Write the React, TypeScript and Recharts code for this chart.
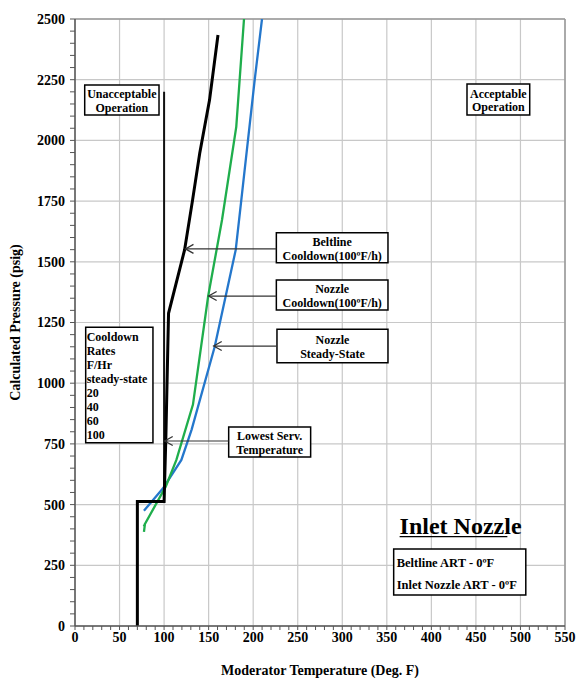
import React from 'react';
import {
  ComposedChart,
  Line,
  XAxis,
  YAxis,
  CartesianGrid,
  ReferenceLine,
  ReferenceArea,
} from 'recharts';

const FONT = '"Liberation Serif", "Times New Roman", serif';

// ---- tick labels ----
const xMajorTicks = [0, 50, 100, 150, 200, 250, 300, 350, 400, 450, 500, 550];
const yMajorTicks = [0, 250, 500, 750, 1000, 1250, 1500, 1750, 2000, 2250, 2500];
const xMinorStep = 10;
const yMinorStep = 50;
const xAllTicks = Array.from({ length: 550 / xMinorStep + 1 }, (_, i) => i * xMinorStep);
const yAllTicks = Array.from({ length: 2500 / yMinorStep + 1 }, (_, i) => i * yMinorStep);

// ---- series (temperature °F, pressure psig) ----
const beltlineCooldown = [
  { t: 70, p: 0 },
  { t: 70, p: 513 },
  { t: 100, p: 513 },
  { t: 102, p: 780 },
  { t: 105, p: 1288 },
  { t: 123, p: 1549 },
  { t: 132, p: 1755 },
  { t: 140, p: 1947 },
  { t: 151, p: 2166 },
  { t: 160.5, p: 2434 },
];

const nozzleCooldown = [
  { t: 77.4, p: 388 },
  { t: 78.5, p: 420 },
  { t: 77.2, p: 410 },
  { t: 78.5, p: 420 },
  { t: 101.8, p: 574 },
  { t: 113.8, p: 684 },
  { t: 132.4, p: 912 },
  { t: 149.5, p: 1359 },
  { t: 165, p: 1672 },
  { t: 181, p: 2056 },
  { t: 189.7, p: 2500 },
];

const nozzleSteadyState = [
  { t: 77.4, p: 475 },
  { t: 98.8, p: 567 },
  { t: 119.4, p: 684 },
  { t: 131, p: 810 },
  { t: 156.8, p: 1150 },
  { t: 180.4, p: 1549 },
  { t: 186.7, p: 1755 },
  { t: 201.7, p: 2249 },
  { t: 209.9, p: 2500 },
];

const lowestServiceLine = [
  { t: 100, p: 513 },
  { t: 100, p: 2200 },
];

// ---- annotation boxes (data coordinates) ----
type Box = {
  x1: number; x2: number; y1: number; y2: number;
  lines: string[];
  align: 'middle' | 'start';
  fontSize: number;
  lineGap: number;
  first: number;
  border: boolean;
};

const boxes: Box[] = [
  { x1: 10.9, x2: 94.3, y1: 2105, y2: 2228, lines: ['Unacceptable', 'Operation'], align: 'middle', fontSize: 12, lineGap: 13.5, first: 13.3, border: true },
  { x1: 440, x2: 510.4, y1: 2105, y2: 2232, lines: ['Acceptable', 'Operation'], align: 'middle', fontSize: 12, lineGap: 13.5, first: 13.8, border: true },
  { x1: 226, x2: 351.3, y1: 1496, y2: 1620, lines: ['Beltline', 'Cooldown(100ºF/h)'], align: 'middle', fontSize: 12, lineGap: 14, first: 13.3, border: true },
  { x1: 226, x2: 351.3, y1: 1301, y2: 1425, lines: ['Nozzle', 'Cooldown(100ºF/h)'], align: 'middle', fontSize: 12, lineGap: 14, first: 13.3, border: true },
  { x1: 226.7, x2: 351.3, y1: 1084, y2: 1222, lines: ['Nozzle', 'Steady-State'], align: 'middle', fontSize: 12, lineGap: 14, first: 14.5, border: true },
  { x1: 172.5, x2: 264.5, y1: 696, y2: 820, lines: ['Lowest Serv.', 'Temperature'], align: 'middle', fontSize: 12, lineGap: 14, first: 13.3, border: true },
  { x1: 12, x2: 87.5, y1: 755, y2: 1230, lines: ['Cooldown', 'Rates', 'F/Hr', 'steady-state', '20', '40', '60', '100'], align: 'start', fontSize: 12, lineGap: 14, first: 13.4, border: true },
  { x1: 357.7, x2: 506, y1: 128, y2: 317, lines: ['Beltline ART - 0ºF', 'Inlet Nozzle ART - 0ºF'], align: 'start', fontSize: 12.5, lineGap: 22, first: 18.3, border: true },
];

// ---- arrows: from label box to curve ----
const arrows = [
  { fromT: 226, toT: 124, p: 1553 },
  { fromT: 226, toT: 150, p: 1359 },
  { fromT: 226.7, toT: 155.7, p: 1153 },
  { fromT: 172.5, toT: 100.7, p: 762 },
];

const title = { text: 'Inlet Nozzle', x1: 361, x2: 510, y1: 378, y2: 470 };

const makeBoxLabel = (b: Box) => (props: any) => {
  const vb = props.viewBox || {};
  const { x = 0, y = 0, width = 0 } = vb;
  const tx = b.align === 'middle' ? x + width / 2 : x + (b.fontSize > 12 ? 3 : 1);
  return (
    <text
      fontFamily={FONT}
      fontWeight="bold"
      fontSize={b.fontSize}
      fill="#000"
      textAnchor={b.align}
    >
      {b.lines.map((l, i) => (
        <tspan key={i} x={tx} y={y + b.first + i * b.lineGap}>
          {l}
        </tspan>
      ))}
    </text>
  );
};

const titleLabel = (props: any) => {
  const vb = props.viewBox || {};
  const { x = 0, y = 0, width = 0, height = 0 } = vb;
  const base = y + height;
  return (
    <g>
      <text x={x + 3} y={base} fontFamily={FONT} fontWeight="bold" fontSize={24} fill="#000">
        {title.text}
      </text>
      <line x1={x + 3} x2={x + width - 22} y1={base + 2.5} y2={base + 2.5} stroke="#000" strokeWidth={1.3} />
    </g>
  );
};

const ArrowShape = (props: any) => {
  const { x1, y1, x2, y2 } = props;
  if ([x1, y1, x2, y2].some((v) => typeof v !== 'number' || isNaN(v))) return null;
  const dx = x2 - x1;
  const dy = y2 - y1;
  const len = Math.sqrt(dx * dx + dy * dy) || 1;
  const ux = dx / len;
  const uy = dy / len;
  const hl = 8;
  const hw = 4.5;
  const bx = x2 - ux * hl;
  const by = y2 - uy * hl;
  return (
    <g>
      <line x1={x1} y1={y1} x2={x2} y2={y2} stroke="#333" strokeWidth={1.2} />
      <polyline
        points={`${bx - uy * hw},${by + ux * hw} ${x2},${y2} ${bx + uy * hw},${by - ux * hw}`}
        fill="none"
        stroke="#333"
        strokeWidth={1.3}
      />
    </g>
  );
};

const tickStyle = { fontFamily: FONT, fontWeight: 'bold', fontSize: 14, fill: '#000' } as any;

export default function App() {
  return (
    <div style={{ position: 'absolute', left: 0, top: 0, background: '#fff' }}>
      <ComposedChart width={577} height={678} margin={{ top: 19, right: 12, bottom: 0, left: 0 }}>
        <CartesianGrid
          stroke="#c8c8c8"
          strokeWidth={1.2}
          horizontalValues={yMajorTicks}
          verticalValues={xMajorTicks}
        />
        <XAxis
          type="number"
          dataKey="t"
          domain={[0, 550]}
          allowDataOverflow
          ticks={xAllTicks}
          interval={0}
          height={52}
          tickSize={4}
          tickMargin={2}
          tickFormatter={(v: number) => (xMajorTicks.includes(v) ? String(v) : '')}
          tick={tickStyle}
          axisLine={{ stroke: '#555', strokeWidth: 1.5 }}
          tickLine={{ stroke: '#555' }}
          label={{
            value: 'Moderator Temperature (Deg. F)',
            position: 'insideBottom',
            offset: 3,
            style: { fontFamily: FONT, fontWeight: 'bold', fontSize: 14, fill: '#000' },
          }}
        />
        <YAxis
          type="number"
          dataKey="p"
          domain={[0, 2500]}
          allowDataOverflow
          ticks={yAllTicks}
          interval={0}
          width={75}
          tickSize={5}
          tickMargin={5}
          tickFormatter={(v: number) => (yMajorTicks.includes(v) ? String(v) : '')}
          tick={tickStyle}
          axisLine={{ stroke: '#555', strokeWidth: 1.5 }}
          tickLine={{ stroke: '#555' }}
          label={{
            value: 'Calculated Pressure (psig)',
            angle: -90,
            position: 'insideLeft',
            offset: 15,
            style: { fontFamily: FONT, fontWeight: 'bold', fontSize: 14, fill: '#000', textAnchor: 'middle' },
          }}
        />
        <ReferenceLine x={550} stroke="#999" strokeWidth={1.5} />
        <ReferenceLine y={2500} stroke="#999" strokeWidth={1.5} />

        <Line data={lowestServiceLine} dataKey="p" type="linear" stroke="#111" strokeWidth={2} dot={false} isAnimationActive={false} />
        <Line data={nozzleSteadyState} dataKey="p" type="linear" stroke="#2477cc" strokeWidth={2.3} dot={false} isAnimationActive={false} />
        <Line data={nozzleCooldown} dataKey="p" type="linear" stroke="#1fae4c" strokeWidth={2.3} dot={false} isAnimationActive={false} />
        <Line data={beltlineCooldown} dataKey="p" type="linear" stroke="#000" strokeWidth={3} dot={false} isAnimationActive={false} />

        {arrows.map((a, i) => (
          <ReferenceLine
            key={'a' + i}
            segment={[{ x: a.fromT, y: a.p }, { x: a.toT, y: a.p }]}
            stroke="#333"
            shape={ArrowShape}
          />
        ))}

        {boxes.map((b, i) => (
          <ReferenceArea
            key={'b' + i}
            x1={b.x1}
            x2={b.x2}
            y1={b.y1}
            y2={b.y2}
            fill="#fff"
            fillOpacity={1}
            stroke="#000"
            strokeWidth={1.5}
            label={makeBoxLabel(b)}
          />
        ))}

        <ReferenceArea
          x1={title.x1}
          x2={title.x2}
          y1={title.y1}
          y2={title.y2}
          fill="none"
          fillOpacity={0}
          stroke="none"
          label={titleLabel}
        />
      </ComposedChart>
    </div>
  );
}
